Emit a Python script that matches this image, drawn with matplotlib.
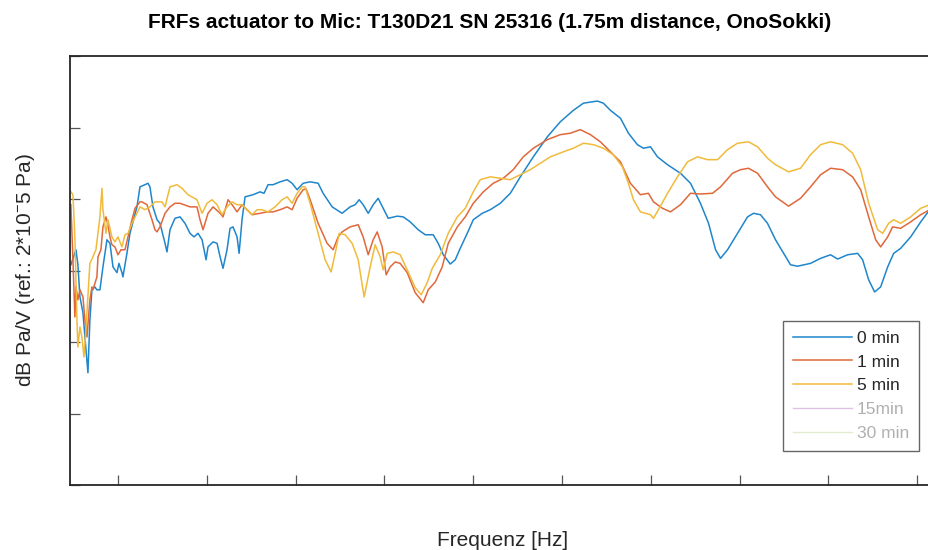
import numpy as np
import matplotlib
matplotlib.use('Agg')
import matplotlib.pyplot as plt

plt.rcParams['font.family'] = ['Liberation Sans', 'DejaVu Sans']
plt.rcParams['mathtext.default'] = 'regular'

# Frequenz [Hz] und Pegel [dB] je Messung
f_0min = [470, 527, 549, 572, 606, 628, 662, 684, 707, 741, 763, 797, 831, 876, 910, 944, 989, 1011,
          1045, 1056, 1101, 1135, 1214, 1248, 1304, 1338, 1360, 1394, 1440, 1473, 1530, 1552, 1586,
          1642, 1699, 1755, 1811, 1856, 1902, 1947, 1992, 2014, 2071, 2116, 2150, 2183, 2228, 2262,
          2296, 2341, 2364, 2397, 2431, 2521, 2600, 2645, 2690, 2747, 2826, 2905, 2961, 3017, 3085,
          3164, 3254, 3310, 3412, 3524, 3614, 3671, 3716, 3761, 3818, 3874, 3930, 3986, 4043, 4144,
          4212, 4291, 4381, 4460, 4550, 4606, 4663, 4742, 4798, 4854, 4933, 5001, 5102, 5192, 5305,
          5418, 5531, 5677, 5835, 5981, 6128, 6241, 6398, 6466, 6545, 6658, 6748, 6849, 6917, 6996,
          7075, 7188, 7334, 7447, 7559, 7650, 7729, 7785, 7864, 7976, 8089, 8157, 8235, 8314, 8404,
          8495, 8573, 8652, 8799, 8912, 9024, 9103, 9216, 9329, 9385, 9453, 9520, 9588, 9667, 9735,
          9813, 9926, 10039, 10140]
db_0min = [50.8, 52.9, 50.8, 46.3, 44.1, 40.7, 35.7, 43.1, 47.3, 47.7, 47.3, 47.3, 50.5, 54.3, 53.8,
           50.5, 49.7, 51.0, 49.7, 49.1, 52.4, 55.2, 58.9, 61.7, 62.0, 62.2, 61.7, 58.9, 57.1, 56.6,
           53.8, 52.6, 55.7, 57.3, 57.5, 56.6, 55.2, 54.7, 55.2, 54.3, 51.5, 53.3, 54.0, 53.8, 51.9,
           50.3, 52.9, 55.9, 56.1, 54.7, 52.4, 57.1, 60.3, 60.6, 61.0, 60.8, 62.0, 62.0, 62.4, 62.7,
           62.2, 61.3, 62.2, 62.4, 62.2, 60.8, 58.9, 58.0, 58.9, 59.2, 59.9, 59.2, 58.0, 59.2, 60.1,
           58.7, 57.3, 57.6, 57.5, 56.8, 55.7, 55.0, 55.0, 53.8, 52.2, 50.9, 51.5, 53.1, 55.2, 57.1,
           58.0, 58.5, 59.4, 60.8, 63.1, 65.9, 68.7, 70.8, 72.4, 73.4, 73.7, 73.4, 72.4, 71.3, 69.2,
           67.6, 67.1, 67.3, 65.9, 64.8, 63.6, 62.2, 59.4, 56.6, 52.9, 51.7, 52.9, 55.2, 57.5, 58.0,
           57.8, 56.6, 54.3, 52.4, 50.8, 50.6, 51.0, 51.7, 52.2, 51.6, 52.2, 52.4, 51.5, 48.7, 47.0,
           47.7, 50.5, 52.4, 53.1, 54.7, 56.8, 58.5]

f_1min = [470, 493, 515, 527, 549, 572, 606, 628, 651, 684, 707, 718, 763, 775, 808, 831, 865, 887,
          910, 932, 966, 1000, 1034, 1079, 1113, 1158, 1192, 1248, 1270, 1327, 1383, 1417, 1440, 1473,
          1530, 1586, 1642, 1699, 1811, 1890, 1924, 1958, 2014, 2071, 2150, 2183, 2240, 2285, 2341,
          2397, 2454, 2510, 2600, 2679, 2747, 2826, 2905, 2961, 3017, 3085, 3119, 3164, 3254, 3355,
          3423, 3479, 3524, 3614, 3705, 3761, 3818, 3874, 3919, 3975, 4020, 4065, 4122, 4178, 4257,
          4347, 4437, 4494, 4573, 4651, 4719, 4821, 4911, 5001, 5114, 5226, 5339, 5451, 5564, 5677,
          5835, 5981, 6094, 6207, 6320, 6432, 6545, 6658, 6770, 6883, 6973, 7030, 7131, 7221, 7334,
          7447, 7559, 7695, 7785, 7920, 8010, 8100, 8202, 8314, 8404, 8551, 8686, 8799, 8912, 9024,
          9160, 9272, 9363, 9453, 9532, 9588, 9667, 9723, 9813, 9926, 10039, 10140]
db_1min = [59.2, 51.5, 43.5, 47.7, 45.9, 47.3, 46.3, 43.1, 40.7, 45.9, 47.7, 47.3, 49.1, 51.9, 52.9,
           56.1, 57.5, 56.4, 54.7, 53.6, 53.3, 52.2, 52.9, 52.9, 54.7, 57.1, 58.7, 59.6, 59.6, 59.2,
           57.1, 55.7, 55.4, 56.1, 58.0, 58.9, 59.4, 59.4, 58.9, 58.9, 57.1, 55.7, 58.0, 58.9, 58.0,
           57.5, 59.9, 59.2, 58.2, 59.2, 58.5, 57.8, 58.0, 58.2, 58.2, 58.5, 58.9, 58.5, 60.1, 61.3,
           61.4, 59.9, 56.6, 53.8, 52.9, 54.7, 55.4, 56.1, 56.4, 54.7, 52.2, 54.3, 55.4, 53.3, 49.4,
           50.5, 51.2, 51.0, 49.7, 46.9, 45.5, 47.3, 48.4, 50.5, 53.8, 56.1, 57.5, 59.4, 61.0, 62.2,
           62.9, 64.1, 65.9, 67.1, 68.3, 69.0, 69.2, 69.7, 69.0, 68.0, 66.6, 65.2, 62.2, 60.6, 60.8,
           59.6, 58.7, 58.2, 59.2, 60.8, 60.7, 60.8, 61.7, 63.6, 64.1, 64.3, 63.6, 61.7, 60.3, 59.0,
           60.1, 61.7, 63.4, 64.3, 64.1, 63.1, 61.3, 57.5, 54.3, 53.3, 54.7, 56.1, 55.9, 56.8, 57.8,
           58.5]

f_5min = [470, 493, 515, 538, 549, 572, 594, 617, 639, 684, 718, 752, 797, 820, 831, 865, 887, 932,
          966, 1000, 1045, 1079, 1113, 1158, 1214, 1248, 1304, 1360, 1417, 1496, 1530, 1586, 1665,
          1721, 1789, 1890, 1947, 2003, 2059, 2116, 2172, 2228, 2285, 2341, 2397, 2454, 2510, 2567,
          2622, 2690, 2769, 2848, 2905, 2961, 3017, 3074, 3107, 3164, 3254, 3333, 3400, 3446, 3491,
          3558, 3637, 3705, 3772, 3840, 3896, 3953, 3986, 4032, 4099, 4178, 4257, 4347, 4415, 4482,
          4539, 4629, 4719, 4821, 4911, 5001, 5080, 5192, 5305, 5418, 5531, 5643, 5756, 5869, 6015,
          6128, 6241, 6354, 6466, 6578, 6680, 6748, 6804, 6883, 6996, 7030, 7086, 7188, 7300, 7413,
          7526, 7638, 7751, 7864, 7976, 8100, 8202, 8314, 8404, 8551, 8686, 8799, 8912, 9024, 9160,
          9272, 9363, 9453, 9554, 9611, 9678, 9735, 9813, 9926, 10039, 10140]
db_5min = [61.0, 60.6, 54.7, 43.1, 39.3, 42.1, 40.7, 37.9, 41.7, 51.0, 51.9, 52.9, 57.5, 61.5, 58.5,
           55.2, 57.1, 54.7, 54.0, 54.7, 53.3, 55.0, 55.2, 56.6, 58.0, 58.9, 58.5, 58.9, 59.6, 59.6,
           58.9, 61.7, 62.0, 61.5, 60.6, 59.9, 58.0, 59.4, 59.9, 59.2, 57.8, 58.9, 59.6, 59.2, 59.2,
           58.5, 57.8, 58.5, 58.5, 58.2, 58.9, 59.9, 60.3, 59.4, 60.8, 61.7, 61.7, 59.4, 55.2, 51.5,
           49.8, 52.4, 55.2, 55.0, 53.8, 51.5, 46.3, 50.5, 53.6, 51.9, 50.1, 52.4, 52.6, 52.2, 50.1,
           47.6, 46.6, 48.3, 50.3, 52.2, 55.2, 57.5, 58.7, 61.0, 62.7, 63.1, 62.9, 62.7, 63.4, 64.1,
           65.0, 65.9, 66.6, 67.1, 67.8, 67.6, 67.1, 66.2, 64.5, 62.2, 59.9, 58.2, 57.8, 57.3, 58.5,
           60.8, 63.1, 65.2, 65.9, 65.5, 65.5, 66.9, 67.8, 68.0, 67.3, 65.7, 64.8, 63.8, 64.3, 66.2,
           67.6, 68.0, 67.6, 66.4, 64.1, 59.4, 55.7, 55.2, 56.6, 57.1, 56.6, 57.5, 58.7, 59.2]

# Messungen nach 15 und 30 min sind ausgeblendet (nur Legende)
f_leer = []
db_leer = []

x_ticks = [1000, 2000, 3000, 4000, 5000, 6000, 7000, 8000, 9000, 10000]
y_ticks = [20, 30, 40, 50, 60, 70, 80]

fig = plt.figure(figsize=(9.29, 5.5), dpi=100)
ax = fig.add_axes([70/929, 65/550, 865/929, 429/550])

ax.plot(f_0min, db_0min, color='#1f86cc', lw=1.1, label='0 min')
ax.plot(f_1min, db_1min, color='#e0683a', lw=1.1, label='1 min')
ax.plot(f_5min, db_5min, color='#f0bb3c', lw=1.1, label='5 min')
ax.plot(f_leer, db_leer, color='#dcc3e2', lw=1.0, label='15min')
ax.plot(f_leer, db_leer, color='#e2ebd0', lw=1.0, label='30 min')

ax.set_xlim(460, 10200)
ax.set_ylim(20, 80)
ax.set_xticks(x_ticks)
ax.set_yticks(y_ticks)
ax.tick_params(direction='in', length=7, width=0.9, color='#555555',
               labelbottom=False, labelleft=False)
for s in ['left', 'bottom', 'top']:
    ax.spines[s].set_color('#262626')
    ax.spines[s].set_linewidth(1.3)
ax.spines['right'].set_visible(False)

ax.set_title('FRFs actuator to Mic: T130D21 SN 25316 (1.75m distance, OnoSokki)',
             fontsize=15, fontweight='bold', pad=20, x=0.4855)
ax.set_xlabel('Frequenz [Hz]', fontsize=15, color='#262626', labelpad=33)
ax.set_ylabel('dB Pa/V (ref.: 2*10$^{-}$5 Pa)', fontsize=15, color='#262626', labelpad=24)

leg = ax.legend(loc='upper left', bbox_to_anchor=(783/929, 1 - 321/550),
                bbox_transform=fig.transFigure, borderaxespad=0,
                fontsize=12.5, handlelength=3.4, handletextpad=0.3,
                labelspacing=0.5, fancybox=False, framealpha=1,
                edgecolor='#666666', borderpad=0.55)
leg.get_frame().set_linewidth(1.0)
for i, t in enumerate(leg.get_texts()):
    t.set_color('#262626' if i < 3 else '#b0b0b0')

fig.savefig('out.png', dpi=100)
